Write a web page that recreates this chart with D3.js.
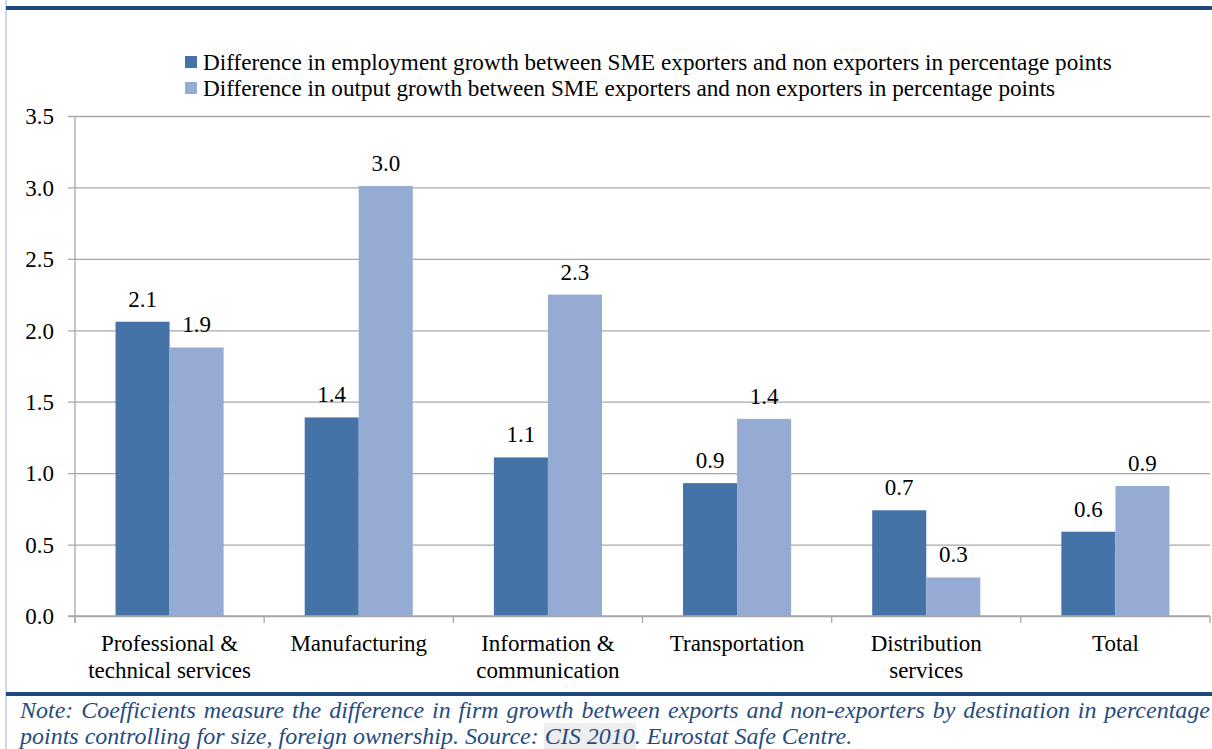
<!DOCTYPE html>
<html>
<head>
<meta charset="utf-8">
<script src="https://cdn.jsdelivr.net/npm/d3@7"></script>
<style>
  html, body { margin: 0; padding: 0; background: #fff; }
  svg { display: block; }
  svg text { font-family: 'Liberation Serif', Tinos, 'Times New Roman', Times, serif !important; }
</style>
</head>
<body>
<svg id="chart" width="1212" height="749"></svg>
<script>
// Sector categories (each label may wrap to two lines)
const categories = [
  ["Professional &", "technical services"],
  ["Manufacturing"],
  ["Information &", "communication"],
  ["Transportation"],
  ["Distribution", "services"],
  ["Total"]
];
// Difference in employment growth (percentage points)
const employment = [2.06, 1.39, 1.11, 0.93, 0.74, 0.59];
// Difference in output growth (percentage points)
const output = [1.88, 3.01, 2.25, 1.38, 0.27, 0.91];
const seriesNames = [
  "Difference in employment growth between SME exporters and non exporters in percentage points",
  "Difference in output growth between SME exporters and non exporters in percentage points"
];
const yTicks = [0, 0.5, 1.0, 1.5, 2.0, 2.5, 3.0, 3.5];
const noteLines = [
  "Note: Coefficients measure the difference in firm growth between exports and non-exporters by destination in percentage",
  "points controlling for size, foreign ownership. Source: CIS 2010. Eurostat Safe Centre."
];

const SERIF = "'Liberation Serif', Tinos, 'Times New Roman', Times, serif";
const FS = 23;
const colors = ["#4573a8", "#95abd3"];
const svg = d3.select("#chart").attr("font-family", SERIF);

// Frame: light left border and dark rules
svg.append("rect").attr("x", 5).attr("y", 0).attr("width", 2).attr("height", 749).attr("fill", "#c6d9f1");
svg.append("rect").attr("x", 6).attr("y", 6).attr("width", 1206).attr("height", 4).attr("fill", "#1f497d");
svg.append("rect").attr("x", 6).attr("y", 692).attr("width", 1206).attr("height", 4).attr("fill", "#1f497d");

const plot = { left: 75, right: 1210, top: 116, bottom: 616 };

const y = d3.scaleLinear().domain([0, 3.5]).range([plot.bottom, plot.top]);
const x0 = d3.scaleBand().domain(d3.range(categories.length)).range([plot.left, plot.right]).paddingInner(0).paddingOuter(0);
const x1 = d3.scaleBand().domain([0, 1]).range([0, x0.bandwidth()]).paddingInner(0).paddingOuter(0.75);

// Horizontal gridlines + y axis
const yAxis = d3.axisLeft(y).tickValues(yTicks).tickFormat(d3.format(".1f"))
  .tickSize(-(plot.right - plot.left)).tickSizeOuter(0).tickPadding(21);
const gy = svg.append("g").attr("transform", `translate(${plot.left},0)`).call(yAxis)
  .attr("font-family", SERIF);
gy.select(".domain").remove();
gy.selectAll(".tick line").attr("stroke", "#a8a8a8").attr("stroke-width", 1.3).attr("x1", -7);
gy.selectAll(".tick text").attr("font-size", FS).attr("fill", "#000").attr("dy", "0.34em");

// y axis line
svg.append("line").attr("x1", plot.left).attr("x2", plot.left)
  .attr("y1", plot.top).attr("y2", plot.bottom + 7)
  .attr("stroke", "#a8a8a8").attr("stroke-width", 1.3);

// Bars
const groups = svg.append("g").selectAll("g").data(categories).join("g")
  .attr("transform", (d, i) => `translate(${x0(i)},0)`);
const barData = (d, i) => [employment[i], output[i]];
groups.selectAll("rect").data(barData).join("rect")
  .attr("x", (v, j) => x1(j))
  .attr("width", x1.bandwidth())
  .attr("y", v => y(v))
  .attr("height", v => y(0) - y(v))
  .attr("fill", (v, j) => colors[j]);

// x axis baseline with ticks between categories
const xAxisLine = svg.append("g");
xAxisLine.append("line").attr("x1", plot.left - 7).attr("x2", plot.right)
  .attr("y1", plot.bottom).attr("y2", plot.bottom)
  .attr("stroke", "#a8a8a8").attr("stroke-width", 1.3);
xAxisLine.selectAll("line.tk").data(d3.range(categories.length + 1)).join("line")
  .attr("class", "tk")
  .attr("x1", i => i < categories.length ? x0(i) : plot.right)
  .attr("x2", i => i < categories.length ? x0(i) : plot.right)
  .attr("y1", plot.bottom).attr("y2", plot.bottom + 7)
  .attr("stroke", "#a8a8a8").attr("stroke-width", 1.3);

// Value labels
const fmt = d3.format(".1f");
groups.selectAll("text.val").data(barData).join("text")
  .attr("class", "val")
  .attr("x", (v, j) => x1(j) + x1.bandwidth() / 2)
  .attr("y", v => y(v) - 15)
  .attr("text-anchor", "middle")
  .attr("font-size", FS)
  .attr("fill", "#000")
  .text(v => fmt(v));

// Category labels
groups.append("text")
  .attr("x", x0.bandwidth() / 2)
  .attr("y", 651)
  .attr("text-anchor", "middle")
  .attr("font-size", FS)
  .attr("fill", "#000")
  .selectAll("tspan").data(d => d).join("tspan")
  .attr("x", x0.bandwidth() / 2)
  .attr("dy", (d, k) => k === 0 ? 0 : 27)
  .text(d => d);

// Legend
const legend = svg.append("g").attr("transform", "translate(185,0)");
const lg = legend.selectAll("g").data(seriesNames).join("g")
  .attr("transform", (d, i) => `translate(0,${62 + i * 26})`);
lg.append("rect").attr("x", 0).attr("y", -6).attr("width", 12).attr("height", 12)
  .attr("fill", (d, i) => colors[i]);
lg.append("text").attr("x", 18).attr("y", 8).attr("font-size", 23.2).attr("fill", "#000")
  .text(d => d);

// Note below the chart, justified across the full width (last line ragged)
const noteX0 = 20, noteX1 = 1210;
const noteG = svg.append("g");
noteLines.forEach((line, li) => {
  const words = line.split(" ");
  const baseY = 718 + li * 26;
  const nodes = words.map(w => {
    const t = noteG.append("text")
      .attr("y", baseY)
      .attr("font-size", 24)
      .attr("font-style", "italic")
      .attr("fill", "#254c80");
    t.text(w);
    return t;
  });
  const widths = nodes.map(n => n.node().getComputedTextLength());
  const total = d3.sum(widths);
  const justify = li < noteLines.length - 1;
  const space = justify ? (noteX1 - noteX0 - total) / (words.length - 1) : 6;
  let cx = noteX0;
  nodes.forEach((n, k) => {
    if (words[k] === "CIS" || words[k] === "2010.") {
      // shaded source reference
      const w = words[k] === "CIS" ? widths[k] + space : widths[k] - 6;
      noteG.insert("rect", "text").attr("x", cx - 1).attr("y", baseY - 21)
        .attr("width", w + 2).attr("height", 32).attr("fill", "#eeeeee");
    }
    n.attr("x", cx);
    cx += widths[k] + space;
  });
});
</script>
</body>
</html>
